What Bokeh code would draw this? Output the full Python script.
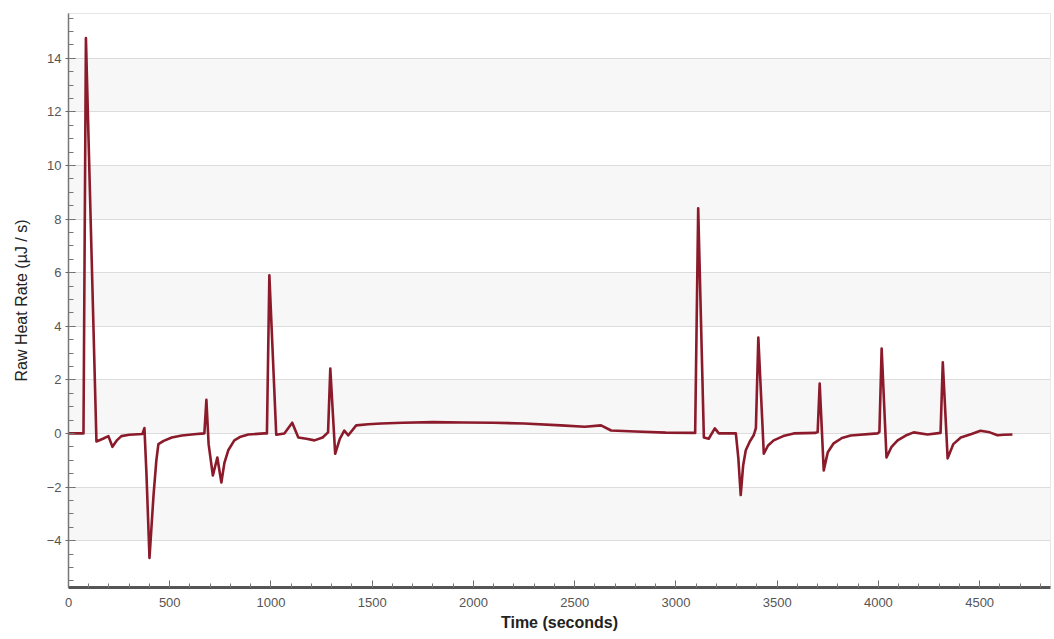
from bokeh.plotting import figure
from bokeh.models import Range1d, SingleIntervalTicker
from bokeh.embed import file_html
from bokeh.resources import INLINE

time_s = [0, 60, 74, 86, 138, 170, 197, 217, 240, 261, 300, 365, 375, 385, 400, 420, 434, 444,
          470, 510, 560, 620, 671, 681, 692, 713, 735, 755, 770, 789, 819, 850, 888, 967, 980,
          992, 1026, 1066, 1105, 1135, 1175, 1215, 1255, 1282, 1293, 1317, 1340, 1362, 1382,
          1421, 1480, 1544, 1650, 1800, 1950, 2100, 2250, 2432, 2550, 2630, 2680, 2800, 2950,
          3095, 3110, 3138, 3162, 3192, 3212, 3296, 3308, 3320, 3332, 3345, 3365, 3384, 3395,
          3407, 3434, 3455, 3483, 3530, 3582, 3690, 3700, 3710, 3730, 3750, 3779, 3820, 3863,
          3996, 4005, 4016, 4040, 4065, 4095, 4135, 4174, 4243, 4307, 4318, 4342, 4370, 4407,
          4460, 4504, 4550, 4588, 4620, 4662]
heat_rate = [0, 0, 0.0, 14.75, -0.3, -0.2, -0.1, -0.5, -0.25, -0.1, -0.05, -0.02, 0.2, -1.5,
             -4.65, -2.3, -1.0, -0.4, -0.28, -0.15, -0.08, -0.03, 0.0, 1.25, -0.4, -1.57, -0.9,
             -1.83, -1.1, -0.63, -0.26, -0.12, -0.04, 0.0, 0.0, 5.9, -0.05, 0.0, 0.4, -0.15,
             -0.2, -0.26, -0.15, 0.04, 2.42, -0.76, -0.2, 0.1, -0.07, 0.3, 0.34, 0.37, 0.4, 0.42,
             0.41, 0.4, 0.37, 0.3, 0.25, 0.3, 0.11, 0.07, 0.03, 0.02, 8.4, -0.15, -0.2, 0.19,
             0.0, 0.0, -0.9, -2.3, -1.2, -0.63, -0.3, -0.07, 0.2, 3.58, -0.76, -0.45, -0.26,
             -0.1, 0.0, 0.02, 0.05, 1.86, -1.38, -0.7, -0.37, -0.17, -0.08, 0.0, 0.05, 3.17,
             -0.9, -0.5, -0.26, -0.08, 0.04, -0.04, 0.02, 2.65, -0.93, -0.4, -0.15, -0.02, 0.1,
             0.04, -0.07, -0.05, -0.04]

x_label = "Time (seconds)"
y_label = "Raw Heat Rate (µJ / s)"

p = figure(width=1054, height=639, output_backend="svg", toolbar_location=None,
           x_range=Range1d(0, 4850), y_range=Range1d(-5.75, 15.67),
           min_border_left=68, min_border_right=4, min_border_top=13, min_border_bottom=52)

p.line(time_s, heat_rate, line_color="#8b1a2b", line_width=2.6, line_join="round")

p.background_fill_color = "white"
p.border_fill_color = "white"
p.outline_line_color = "#e6e6e6"

p.xgrid.grid_line_color = None
p.ygrid.grid_line_color = "#dcdcdc"
p.ygrid.band_fill_color = "#f7f7f7"
p.ygrid.band_fill_alpha = 1.0

p.xaxis.ticker = SingleIntervalTicker(interval=500, num_minor_ticks=5)
p.yaxis.ticker = SingleIntervalTicker(interval=2, num_minor_ticks=4)

for ax in (p.xaxis, p.yaxis):
    ax.major_label_text_font = "Liberation Sans"
    ax.major_label_text_font_size = "13px"
    ax.major_label_text_color = "#555555"
    ax.axis_label_text_font = "Liberation Sans"
    ax.axis_label_text_font_size = "16px"
    ax.axis_label_text_color = "#222222"
    ax.axis_label_text_font_style = "normal"
    ax.major_tick_line_color = "#666666"
    ax.minor_tick_line_color = "#777777"

p.xaxis.axis_label = x_label
p.yaxis.axis_label = y_label
p.xaxis.axis_label_text_font_style = "bold"
p.xaxis.axis_label_standoff = 4
p.yaxis.axis_label_standoff = 14

p.xaxis.axis_line_color = "#555555"
p.xaxis.axis_line_width = 3
p.xaxis.major_tick_in = 7
p.xaxis.major_tick_out = 0
p.xaxis.minor_tick_in = 4
p.xaxis.minor_tick_out = 0
p.xaxis.major_label_standoff = 10

p.yaxis.axis_line_color = "#777777"
p.yaxis.axis_line_width = 1.5
p.yaxis.major_tick_in = 7
p.yaxis.major_tick_out = 3
p.yaxis.minor_tick_in = 5
p.yaxis.minor_tick_out = 0
p.yaxis.major_label_standoff = 4

open("out.html", "w").write(file_html(p, INLINE))
